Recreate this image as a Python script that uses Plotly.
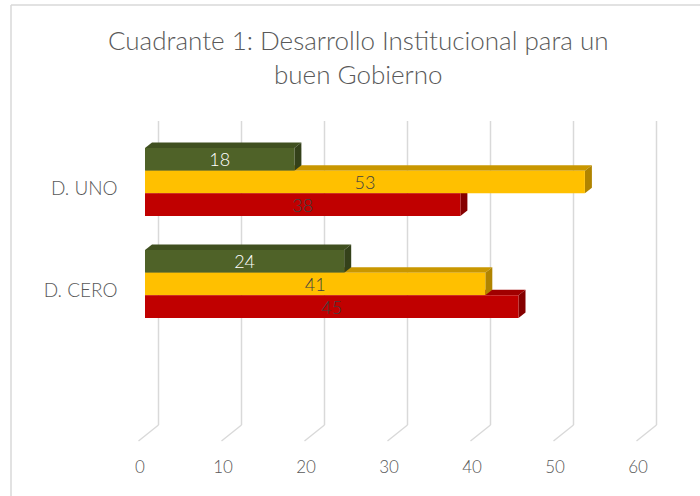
import plotly.graph_objects as go

categories = ["D. UNO", "D. CERO"]
series_names = ["Verde", "Amarillo", "Rojo"]
verde = [18, 24]
amarillo = [53, 41]
rojo = [38, 45]
tick_vals = [0, 10, 20, 30, 40, 50, 60]
title_text = "Cuadrante 1: Desarrollo Institucional para un<br>buen Gobierno"

front_colors = ["#4F6228", "#FFC000", "#C00000"]
top_colors = ["#405020", "#C99700", "#A00000"]
side_colors = ["#34411A", "#B08400", "#850000"]
text_colors = ["#FFFFFF", "#404040", "#404040"]

FONT = "Lato"
W, H = 700, 496
ML, MR, MT, MB = 128, 30, 115, 50
PW = W - ML - MR
PH = H - MT - MB
PX_PER_UNIT = 8.3
PX_PER_CAT = 102.0
X0_BAR = 145.0   # pixel of value 0 on the bar plane
X0_TICK = 140.0  # pixel of value 0 for the tick labels
XMIN, XMAX = -2, 63

def px_to_paper_x(px):
    return (px - ML) / PW

def px_to_paper_y(py):
    return (H - MB - py) / PH

x_dom = [px_to_paper_x(X0_BAR + XMIN * PX_PER_UNIT), px_to_paper_x(X0_BAR + XMAX * PX_PER_UNIT)]
x2_dom = [px_to_paper_x(X0_TICK), px_to_paper_x(X0_TICK + 60 * PX_PER_UNIT)]
y_top = -(182 - MT) / PX_PER_CAT
y_bot = (H - MB - 182) / PX_PER_CAT

fig = go.Figure()
all_series = [verde, amarillo, rojo]
for i, (name, vals) in enumerate(zip(series_names, all_series)):
    fig.add_trace(go.Bar(
        y=categories, x=vals, orientation="h", name=name,
        marker=dict(color=front_colors[i], line=dict(width=0)),
        text=[str(v) for v in vals], textposition="inside",
        insidetextanchor="middle", textangle=0, constraintext="none",
        textfont=dict(family=FONT, size=18, color=text_colors[i], weight=300),
        hoverinfo="skip", xaxis="x", yaxis="y",
    ))

# invisible trace to activate x2 axis for tick labels
fig.add_trace(go.Scatter(x=[0, 60], y=categories, mode="markers",
                         marker=dict(opacity=0), xaxis="x2", yaxis="y",
                         hoverinfo="skip", showlegend=False))

shapes = []
# chart border (top & left)
shapes.append(dict(type="line", xref="paper", yref="paper",
                   x0=px_to_paper_x(11), x1=px_to_paper_x(11),
                   y0=px_to_paper_y(5), y1=px_to_paper_y(H + 2),
                   line=dict(color="#D9D9D9", width=1.5), layer="below"))
shapes.append(dict(type="line", xref="paper", yref="paper",
                   x0=px_to_paper_x(11), x1=px_to_paper_x(W + 2),
                   y0=px_to_paper_y(5), y1=px_to_paper_y(5),
                   line=dict(color="#D9D9D9", width=1.5), layer="below"))

# 3D gridlines (back wall vertical + floor slant)
back_off = 13.5 / PX_PER_UNIT
front_off = -6.5 / PX_PER_UNIT
for v in tick_vals:
    shapes.append(dict(type="line", xref="x", yref="paper",
                       x0=v + back_off, x1=v + back_off,
                       y0=px_to_paper_y(121), y1=px_to_paper_y(425),
                       line=dict(color="#D9D9D9", width=1.5), layer="below"))
    shapes.append(dict(type="line", xref="x", yref="paper",
                       x0=v + back_off, x1=v + front_off,
                       y0=px_to_paper_y(425), y1=px_to_paper_y(441),
                       line=dict(color="#D9D9D9", width=1.5), layer="below"))

# 3D faces of bars
dx = 7.0 / PX_PER_UNIT
dy = 5.5 / PX_PER_CAT
bw = (1 - 1 / 3) / 3
for c in range(len(categories)):
    for i in reversed(range(3)):
        v = all_series[i][c]
        yt = c - 1 / 3 + i * bw
        yb = yt + bw
        top = f"M 0,{yt} L {v},{yt} L {v + dx},{yt - dy} L {dx},{yt - dy} Z"
        side = f"M {v},{yt} L {v + dx},{yt - dy} L {v + dx},{yb - dy} L {v},{yb} Z"
        shapes.append(dict(type="path", xref="x", yref="y", path=top,
                           fillcolor=top_colors[i], line=dict(width=0),
                           layer="below"))
        shapes.append(dict(type="path", xref="x", yref="y", path=side,
                           fillcolor=side_colors[i], line=dict(width=0),
                           layer="below"))

fig.update_layout(
    width=W, height=H,
    margin=dict(l=ML, r=MR, t=MT, b=MB, autoexpand=False),
    paper_bgcolor="white", plot_bgcolor="rgba(0,0,0,0)",
    barmode="group", bargap=1 / 3, bargroupgap=0,
    showlegend=False,
    shapes=shapes,
    font=dict(family=FONT, color="#595959", weight=300),
    xaxis=dict(domain=x_dom, range=[XMIN, XMAX], showgrid=False, zeroline=False,
               showticklabels=False, showline=False, fixedrange=True,
               automargin=False),
    xaxis2=dict(domain=x2_dom, range=[0, 60], anchor="y", side="bottom",
                showgrid=False, zeroline=False, automargin=False,
                tickvals=tick_vals, ticktext=[str(t) for t in tick_vals],
                ticks="outside", ticklen=6, tickcolor="rgba(0,0,0,0)",
                tickfont=dict(family=FONT, size=17, color="#595959", weight=300),
                showline=False),
    yaxis=dict(type="category", categoryorder="array", categoryarray=categories,
               range=[y_bot, y_top], showgrid=False, zeroline=False,
               showline=False, ticks="outside", ticklen=6, automargin=False,
               tickcolor="rgba(0,0,0,0)", ticklabelshift=-6,
               tickfont=dict(family=FONT, size=19, color="#595959", weight=300)),
    annotations=[dict(text=title_text, xref="paper", yref="paper",
                      x=px_to_paper_x(358), y=px_to_paper_y(57),
                      xanchor="center", yanchor="middle", showarrow=False,
                      font=dict(family=FONT, size=26, color="#595959", weight=300))],
)

fig.write_html("out.html", config={"displayModeBar": False},
               post_script="document.body.style.margin='0';document.body.style.overflow='hidden';")
